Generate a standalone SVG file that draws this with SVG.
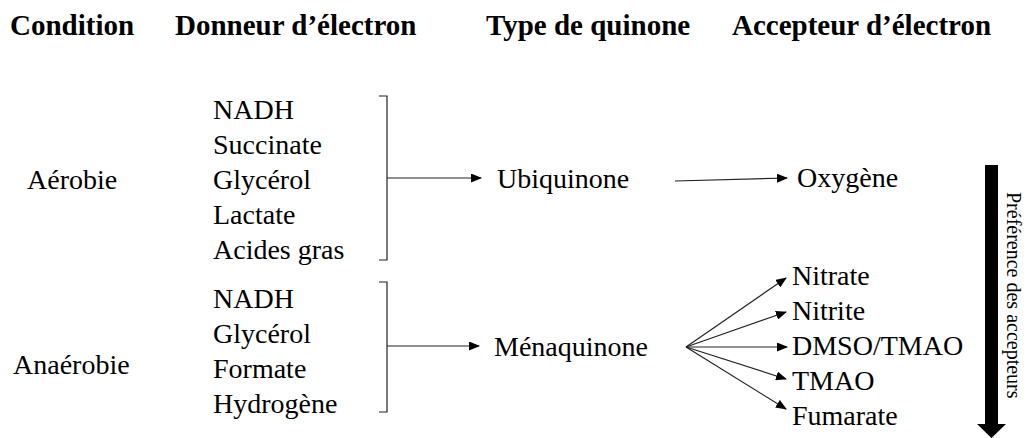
<svg xmlns="http://www.w3.org/2000/svg" width="1029" height="438" viewBox="0 0 1029 438">
<style>
.h{font-family:"Liberation Serif","Times New Roman",serif;font-weight:bold;font-size:29px;fill:#000}
.t{font-family:"Liberation Serif","Times New Roman",serif;font-size:28px;fill:#000}
.v{font-family:"Liberation Serif","Times New Roman",serif;font-size:20px;fill:#000}
.c{stroke:#222;stroke-width:1.2;fill:none}
</style>
<defs>
<marker id="ah" markerUnits="userSpaceOnUse" markerWidth="11" markerHeight="9" refX="10" refY="4.5" orient="auto">
<path d="M0,0 L11,4.5 L0,9 z" fill="#000"/>
</marker>
</defs>
<g id="headers">
<text class="h" x="10" y="35">Condition</text>
<text class="h" x="175" y="35">Donneur d’électron</text>
<text class="h" x="486" y="35">Type de quinone</text>
<text class="h" x="732" y="35">Accepteur d’électron</text>
</g>
<g id="cond-aerobie"><text class="t" x="27" y="189">Aérobie</text></g>
<g id="cond-anaerobie"><text class="t" x="13" y="374">Anaérobie</text></g>
<g id="donneurs-aerobie">
<text class="t" x="213" y="119">NADH</text>
<text class="t" x="213" y="154">Succinate</text>
<text class="t" x="213" y="189">Glycérol</text>
<text class="t" x="213" y="224">Lactate</text>
<text class="t" x="213" y="259">Acides gras</text>
</g>
<g id="donneurs-anaerobie">
<text class="t" x="213" y="308">NADH</text>
<text class="t" x="213" y="343">Glycérol</text>
<text class="t" x="213" y="378">Formate</text>
<text class="t" x="213" y="413">Hydrogène</text>
</g>
<g id="ubiquinone"><text class="t" x="497" y="188">Ubiquinone</text></g>
<g id="menaquinone"><text class="t" x="494" y="356">Ménaquinone</text></g>
<g id="oxygene"><text class="t" x="797" y="187">Oxygène</text></g>
<g id="nitrate"><text class="t" x="792" y="285">Nitrate</text></g>
<g id="nitrite"><text class="t" x="792" y="320">Nitrite</text></g>
<g id="dmso"><text class="t" x="792" y="355">DMSO/TMAO</text></g>
<g id="tmao"><text class="t" x="792" y="390">TMAO</text></g>
<g id="fumarate"><text class="t" x="792" y="425">Fumarate</text></g>
<g id="preference">
<path d="M985,165 H998 V424 H1006 L991.5,438 L977,424 H985 Z" fill="#000"/>
<text class="v" transform="translate(1007,192) rotate(90)">Préférence  des accepteurs</text>
</g>
<g id="connectors">
<path class="c" d="M379,96 H387 V260 H379"/>
<path class="c" d="M379,282 H387 V412 H379"/>
<line class="c" x1="387" y1="178" x2="481" y2="178" marker-end="url(#ah)"/>
<line class="c" x1="387" y1="346" x2="479" y2="346" marker-end="url(#ah)"/>
<line class="c" x1="675" y1="181" x2="787" y2="178" marker-end="url(#ah)"/>
<line class="c" x1="686" y1="347" x2="786" y2="278" marker-end="url(#ah)"/>
<line class="c" x1="686" y1="347" x2="786" y2="312" marker-end="url(#ah)"/>
<line class="c" x1="686" y1="347" x2="787" y2="347" marker-end="url(#ah)"/>
<line class="c" x1="686" y1="347" x2="786" y2="379" marker-end="url(#ah)"/>
<line class="c" x1="686" y1="347" x2="786" y2="409" marker-end="url(#ah)"/>
</g>
</svg>
